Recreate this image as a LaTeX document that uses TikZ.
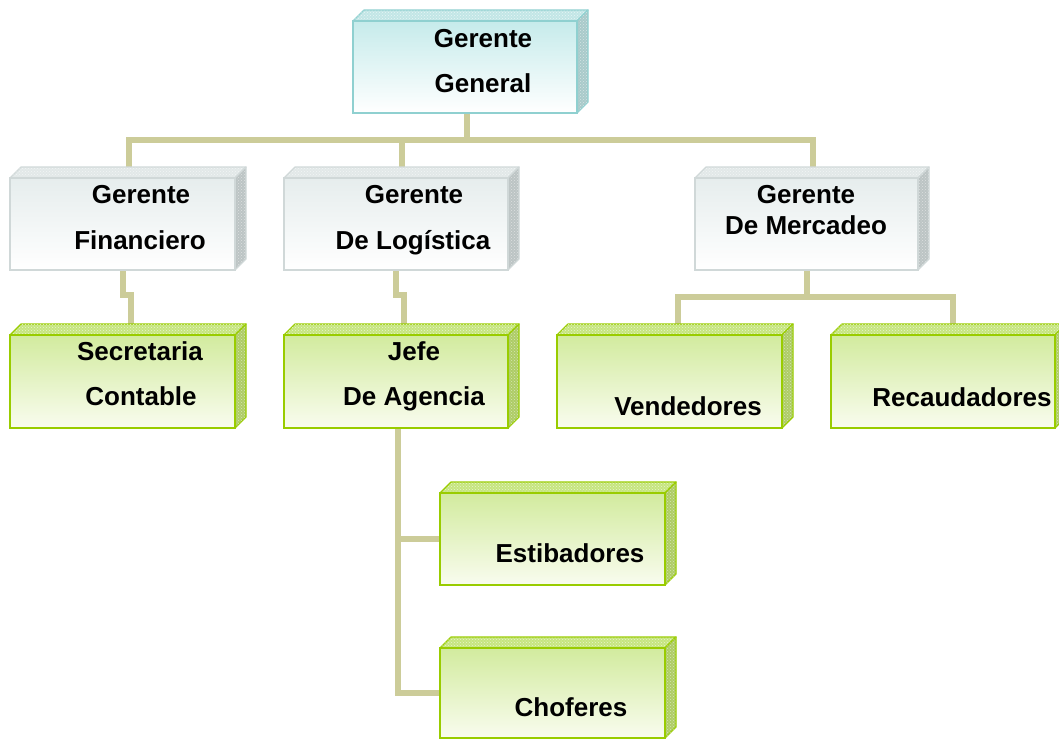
\documentclass[tikz,border=0pt]{standalone}
\usepackage{fontspec}
\setmainfont{Liberation Sans}
\usetikzlibrary{patterns}
\pgfdeclarelayer{bg}\pgfsetlayers{bg,main}
\definecolor{linkc}{HTML}{CCCC99}
\definecolor{tealB}{HTML}{8FD0D0}
\definecolor{tealT}{HTML}{C2E6E6}
\definecolor{tealR}{HTML}{A9CACA}
\definecolor{tealF}{HTML}{C6EBEB}
\definecolor{tealW}{HTML}{FFFFFF}
\definecolor{grayB}{HTML}{D0D8D8}
\definecolor{grayT}{HTML}{E2E8E8}
\definecolor{grayR}{HTML}{BCC4C4}
\definecolor{grayF}{HTML}{E6EDED}
\definecolor{grayW}{HTML}{FFFFFF}
\definecolor{grnB}{HTML}{99CC00}
\definecolor{grnT}{HTML}{C6E57F}
\definecolor{grnR}{HTML}{AECC66}
\definecolor{grnF}{HTML}{D2EB9E}
\definecolor{grnW}{HTML}{F9FCEF}
\newcommand\cubebox[6]{%
  \filldraw[fill=#6T,draw=#6B,line width=1.2pt,line join=round]
    (#2,#3) -- ++(11,-11) -- ({#4+11},{#3-11}) -- (#4,#3) -- cycle;
  \fill[pattern=crosshatch dots,pattern color=white!60!#6T]
    (#2,#3) -- ++(11,-11) -- ({#4+11},{#3-11}) -- (#4,#3) -- cycle;
  \filldraw[fill=#6R,draw=#6B,line width=1.2pt,line join=round]
    (#4,#3) -- ({#4+11},{#3-11}) -- ({#4+11},{#5-11}) -- (#4,#5) -- cycle;
  \fill[pattern=crosshatch dots,pattern color=white!50!#6R]
    (#4,#3) -- ({#4+11},{#3-11}) -- ({#4+11},{#5-11}) -- (#4,#5) -- cycle;
  \node[draw=#6B,line width=1.5pt,top color=#6F,bottom color=#6W,
    minimum width={(#4-#2)*1pt},minimum height={(#5-#3)*1pt},
    inner sep=0pt,outer sep=0pt,anchor=north west] (#1) at (#2,#3) {};%
}
\tikzset{
  link/.style={draw=linkc,line width=6pt},
  lbl/.style={anchor=base,inner sep=0pt,font=\fontsize{26}{30}\selectfont\bfseries}
}
\begin{document}
\begin{tikzpicture}[x=1pt,y=-1pt]
\useasboundingbox (0,0) rectangle (1059,740);
\cubebox{gg}{353}{21}{577}{113}{teal}
\cubebox{gf}{10}{178}{235}{270}{gray}
\cubebox{gl}{284}{178}{508}{270}{gray}
\cubebox{gm}{695}{178}{918}{270}{gray}
\cubebox{sc}{10}{335}{235}{428}{grn}
\cubebox{ja}{284}{335}{508}{428}{grn}
\cubebox{ve}{557}{335}{782}{428}{grn}
\cubebox{re}{831}{335}{1055}{428}{grn}
\cubebox{es}{440}{493}{665}{585}{grn}
\cubebox{ch}{440}{648}{665}{738}{grn}

\node[lbl] (t1) at (483,47) {Gerente};
\node[lbl] (t2) at (483,92) {General};
\node[lbl] (t3) at (141,203) {Gerente};
\node[lbl] (t4) at (140,249) {Financiero};
\node[lbl] (t5) at (414,203) {Gerente};
\node[lbl] (t6) at (413,249) {De Logística};
\node[lbl] (t7) at (806,203) {Gerente};
\node[lbl] (t8) at (806,234) {De Mercadeo};
\node[lbl] (t9) at (140,360) {Secretaria};
\node[lbl] (t10) at (141,405) {Contable};
\node[lbl] (t11) at (414,360) {Jefe};
\node[lbl] (t12) at (414,405) {De Agencia};
\node[lbl] (t13) at (688,415) {Vendedores};
\node[lbl] (t14) at (962,406) {Recaudadores};
\node[lbl] (t15) at (570,562) {Estibadores};
\node[lbl] (t16) at (571,716) {Choferes};

\begin{pgfonlayer}{bg}
\draw[link] ([xshift=2pt]gg.south) -- ++(0,27) coordinate (bus);
\draw[link] ([xshift=6pt]gf.north) |- (bus) -| ([xshift=6pt]gm.north);
\draw[link] ([xshift=6pt]gl.north) |- (bus);
\draw[link] (gf.south) -- ++(0,25) -| ([xshift=8pt]sc.north);
\draw[link] (gl.south) -- ++(0,25) -| ([xshift=8pt]ja.north);
\draw[link] (gm.south) -- ++(0,27) coordinate (mbus);
\draw[link] ([xshift=8pt]ve.north) |- (mbus) -| ([xshift=10pt]re.north);
\draw[link] ([xshift=2pt]ja.south) |- (ch.west);
\draw[link] ([xshift=2pt]ja.south |- es.west) -- (es.west);
\end{pgfonlayer}
\end{tikzpicture}
\end{document}
